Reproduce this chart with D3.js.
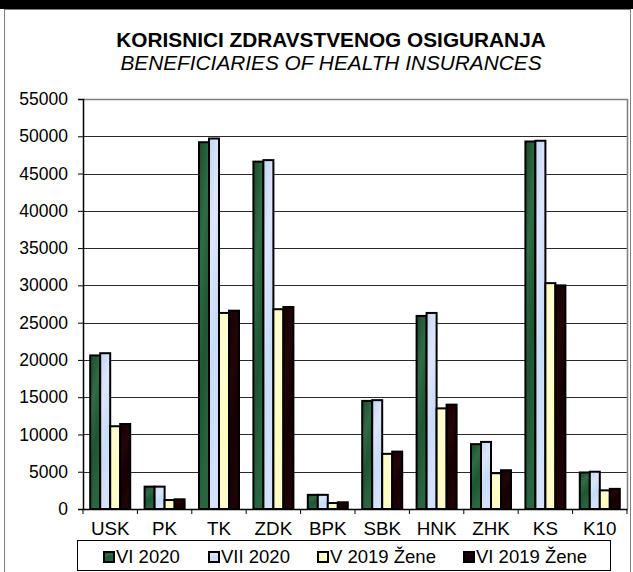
<!DOCTYPE html>
<html>
<head>
<meta charset="utf-8">
<script src="https://cdn.jsdelivr.net/npm/d3@7"></script>
<style>
  body { margin: 0; background: #fff; }
  svg { display: block; font-family: "Liberation Sans", Arial, sans-serif; }
</style>
</head>
<body>
<div id="chart"></div>
<script>
const width = 633, height = 572;

// data
const categories = ["USK", "PK", "TK", "ZDK", "BPK", "SBK", "HNK", "ZHK", "KS", "K10"];
const seriesNames = ["VI 2020", "VII 2020", "V 2019 Žene", "VI 2019 Žene"];
const vi2020 = [20600, 3000, 49200, 46600, 1900, 14500, 25900, 8700, 49300, 4900];
const vii2020 = [20900, 3000, 49700, 46800, 1900, 14600, 26300, 9000, 49400, 5000];
const v2019Zene = [11100, 1200, 26300, 26800, 800, 7400, 13500, 4800, 30300, 2500];
const vi2019Zene = [11400, 1300, 26600, 27100, 900, 7700, 14000, 5200, 30000, 2700];
const yTicks = [0, 5000, 10000, 15000, 20000, 25000, 30000, 35000, 40000, 45000, 50000, 55000];

const seriesValues = [vi2020, vii2020, v2019Zene, vi2019Zene];
const data = categories.map((c, i) => {
  const row = { cat: c };
  seriesNames.forEach((s, j) => row[s] = seriesValues[j][i]);
  return row;
});

const plot = { left: 83, right: 627, top: 99, bottom: 509 };

const svg = d3.select("#chart")
  .append("svg")
    .attr("width", width)
    .attr("height", height);

// fills: gradients imitating the textured Excel fills
const defs = svg.append("defs");
const fills = [
  { id: "g0", stops: ["#1b4a2c", "#2f6c45", "#1f5533", "#2a6540"] },
  { id: "g1", stops: ["#c3d6f2", "#dfe6fb", "#c8dcf6", "#d6e2fa"] },
  { id: "g2", stops: ["#ffffc4", "#fffcd0", "#ffffc0", "#fffbc8"] },
  { id: "g3", stops: ["#180004", "#220608", "#160002", "#1e0406"] }
];
fills.forEach(f => {
  const g = defs.append("linearGradient")
    .attr("id", f.id)
    .attr("x1", "0").attr("y1", "0").attr("x2", "0.3").attr("y2", "1");
  f.stops.forEach((c, i) => {
    g.append("stop")
      .attr("offset", i / (f.stops.length - 1))
      .attr("stop-color", c);
  });
});
const colorScale = d3.scaleOrdinal()
  .domain(seriesNames)
  .range(fills.map(f => `url(#${f.id})`));

// top black band and outer frame
svg.append("rect")
  .attr("x", 0).attr("y", 0)
  .attr("width", width).attr("height", 9)
  .attr("fill", "#000");
svg.append("rect")
  .attr("x", 4.5).attr("y", 9.5)
  .attr("width", 626).attr("height", 620)
  .attr("fill", "none")
  .attr("stroke", "#808080")
  .attr("stroke-width", 1);

// title
svg.append("text")
  .attr("x", 331).attr("y", 47)
  .attr("text-anchor", "middle")
  .attr("font-size", "20.8px")
  .attr("font-weight", "bold")
  .text("KORISNICI ZDRAVSTVENOG OSIGURANJA");
svg.append("text")
  .attr("x", 331).attr("y", 70)
  .attr("text-anchor", "middle")
  .attr("font-size", "20.8px")
  .attr("font-style", "italic")
  .text("BENEFICIARIES OF HEALTH INSURANCES");

// scales
const xScale = d3.scaleBand()
  .domain(categories)
  .range([plot.left, plot.right])
  .padding(0);
const xSub = d3.scaleBand()
  .domain(seriesNames)
  .range([0, xScale.bandwidth()])
  .paddingInner(0)
  .paddingOuter(0.72);
const yScale = d3.scaleLinear()
  .domain([0, 55000])
  .range([plot.bottom, plot.top]);

// gridlines
svg.append("g")
  .selectAll("line")
  .data(yTicks.filter(d => d > 0 && d < 55000))
  .join("line")
    .attr("x1", plot.left).attr("x2", plot.right)
    .attr("y1", d => Math.round(yScale(d)) + 0.5)
    .attr("y2", d => Math.round(yScale(d)) + 0.5)
    .attr("stroke", "#2a2a2a")
    .attr("stroke-width", 1);

// plot border top/right
svg.append("path")
  .attr("d", `M${plot.left},${plot.top + 0.5}H${plot.right + 0.5}V${plot.bottom}`)
  .attr("fill", "none")
  .attr("stroke", "#808080")
  .attr("stroke-width", 1.5);

// bars
const groups = svg.append("g")
  .selectAll("g")
  .data(data)
  .join("g")
    .attr("transform", d => `translate(${xScale(d.cat)},0)`);
groups.selectAll("rect")
  .data(d => seriesNames.map(s => ({ key: s, value: d[s] })))
  .join("rect")
    .attr("x", d => xSub(d.key))
    .attr("y", d => yScale(d.value))
    .attr("width", xSub.bandwidth())
    .attr("height", d => yScale(0) - yScale(d.value))
    .attr("fill", d => colorScale(d.key))
    .attr("stroke", "#000")
    .attr("stroke-width", 2);

// axes
const leftAxis = d3.axisLeft(yScale)
  .tickValues(yTicks)
  .tickSize(5)
  .tickPadding(10)
  .tickFormat(d3.format("d"));
svg.append("g")
  .attr("class", "axis axis-y")
  .attr("transform", `translate(${plot.left},0)`)
  .call(leftAxis)
  .call(g => g.select(".domain").attr("stroke", "#000").attr("stroke-width", 1.5));
svg.selectAll(".axis-y text")
  .attr("font-size", "17.5px")
  .attr("font-family", "Liberation Sans, Arial, sans-serif")
  .attr("fill", "#000");

const bottomAxis = d3.axisBottom(xScale)
  .tickSize(0)
  .tickPadding(13)
  .tickSizeOuter(0);
const axisX = svg.append("g")
  .attr("class", "axis axis-x")
  .attr("transform", `translate(0,${plot.bottom})`)
  .call(bottomAxis);
axisX.select(".domain").attr("stroke", "#000").attr("stroke-width", 1.5);
axisX.selectAll("text")
  .attr("font-size", "18.8px")
  .attr("font-family", "Liberation Sans, Arial, sans-serif")
  .attr("fill", "#000");
// category boundary ticks
axisX.selectAll(".sep")
  .data(categories.concat(["end"]))
  .join("line")
    .attr("class", "sep")
    .attr("x1", (d, i) => plot.left + i * xScale.step())
    .attr("x2", (d, i) => plot.left + i * xScale.step())
    .attr("y1", 0).attr("y2", 5)
    .attr("stroke", "#000");

// legend
const legend = svg.append("g");
legend.append("rect")
  .attr("x", 77.5).attr("y", 540.5)
  .attr("width", 533).attr("height", 30)
  .attr("fill", "#fff")
  .attr("stroke", "#000");
const legendX = [103, 208, 317, 463];
const items = legend.selectAll("g")
  .data(seriesNames)
  .join("g")
    .attr("transform", (d, i) => `translate(${legendX[i]},551)`);
items.append("rect")
  .attr("x", 1).attr("y", 1)
  .attr("width", 10).attr("height", 10)
  .attr("fill", d => colorScale(d))
  .attr("stroke", "#000")
  .attr("stroke-width", 2);
items.append("text")
  .attr("x", 13).attr("y", 11.5)
  .attr("font-size", "18.5px")
  .text(d => d);
</script>
</body>
</html>
